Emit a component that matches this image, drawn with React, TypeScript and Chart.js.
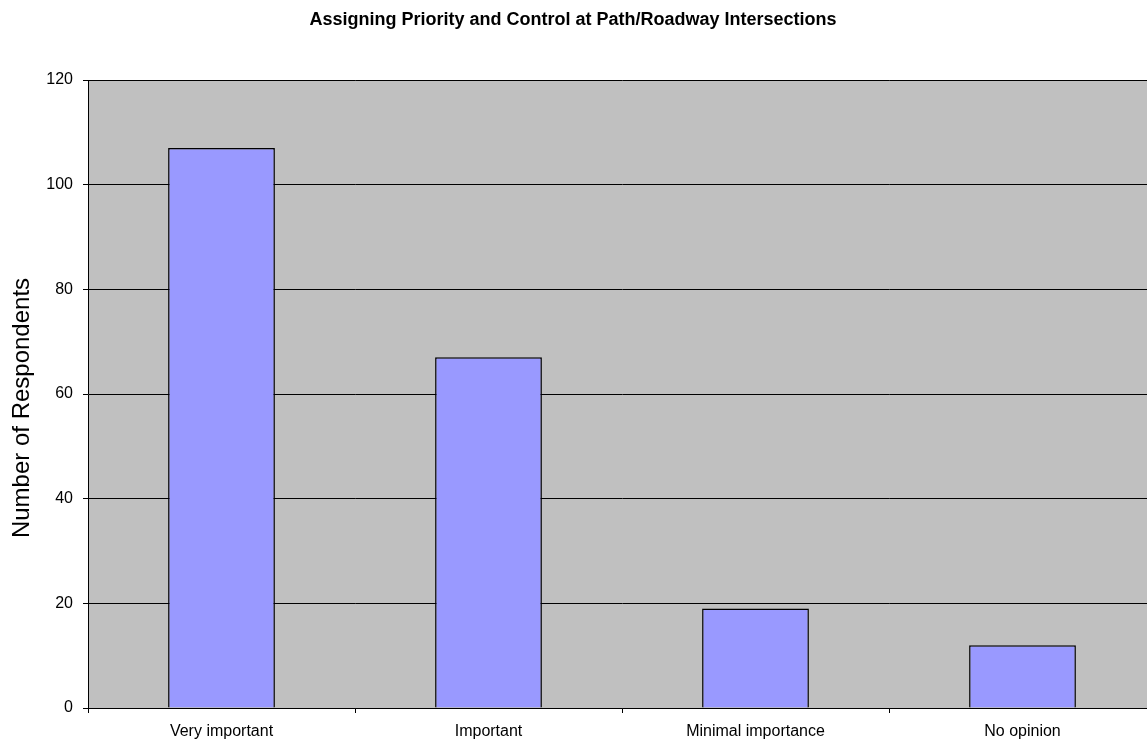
import React, { useEffect, useRef } from "react";
import { Chart, registerables } from "chart.js";

Chart.register(...registerables);

const TITLE = "Assigning Priority and Control at Path/Roadway Intersections";
const Y_TITLE = "Number of Respondents";
const categories = ["Very important", "Important", "Minimal importance", "No opinion"];
const respondents = [107, 67, 19, 12];
const yTicks = [0, 20, 40, 60, 80, 100, 120];

const FONT = "Arial, 'Liberation Sans', sans-serif";

const decorPlugin = {
  id: "decor",
  beforeDraw(chart: any) {
    const { ctx, chartArea } = chart;
    ctx.save();
    ctx.fillStyle = "#C0C0C0";
    ctx.fillRect(chartArea.left, chartArea.top, chartArea.right - chartArea.left, chartArea.bottom - chartArea.top);
    ctx.restore();
  },
  afterDraw(chart: any) {
    const { ctx } = chart;
    ctx.save();
    ctx.fillStyle = "#000";
    ctx.font = `bold 18px ${FONT}`;
    ctx.textAlign = "center";
    ctx.textBaseline = "alphabetic";
    ctx.fillText(TITLE, 573, 25);
    ctx.translate(29, 408);
    ctx.rotate(-Math.PI / 2);
    ctx.font = `24px ${FONT}`;
    ctx.fillText(Y_TITLE, 0, 0);
    ctx.restore();
  },
};

export default function App() {
  const ref = useRef<HTMLCanvasElement>(null);
  useEffect(() => {
    if (!ref.current) return;
    const chart = new Chart(ref.current, {
      type: "bar",
      data: {
        labels: categories,
        datasets: [
          {
            data: respondents,
            backgroundColor: "#9999FF",
            borderColor: "#000000",
            borderWidth: 1.5,
            categoryPercentage: 1,
            barPercentage: 0.4,
          },
        ],
      },
      options: {
        animation: false,
        responsive: false,
        devicePixelRatio: 1,
        layout: { padding: { top: 80, right: 0, left: 0, bottom: 0 } },
        plugins: {
          legend: { display: false },
          title: { display: false },
          tooltip: { enabled: false },
        },
        scales: {
          x: {
            afterFit: (s: any) => {
              s.height = 39;
            },
            grid: {
              offset: true,
              drawOnChartArea: false,
              drawTicks: true,
              tickLength: 5,
              color: "#000",
            },
            border: { color: "#000", width: 1 },
            ticks: {
              color: "#000",
              font: { family: FONT, size: 16 },
              padding: 9,
              maxRotation: 0,
              autoSkip: false,
            },
          },
          y: {
            min: 0,
            max: 120,
            afterFit: (s: any) => {
              s.width = 88;
            },
            afterBuildTicks: (s: any) => {
              s.ticks = yTicks.map((v) => ({ value: v }));
            },
            grid: {
              color: "#000",
              lineWidth: 1,
              drawTicks: true,
              tickLength: 5,
            },
            border: { color: "#000", width: 1 },
            ticks: {
              color: "#000",
              font: { family: FONT, size: 16 },
              padding: 10,
            },
          },
        },
      },
      plugins: [decorPlugin],
    });
    return () => chart.destroy();
  }, []);
  return (
    <div style={{ position: "fixed", left: 0, top: 0, width: 1147, height: 747, overflow: "hidden", background: "#fff" }}>
      <canvas ref={ref} width={1156} height={747} style={{ position: "absolute", left: 0, top: 0, width: 1156, height: 747 }} />
    </div>
  );
}
